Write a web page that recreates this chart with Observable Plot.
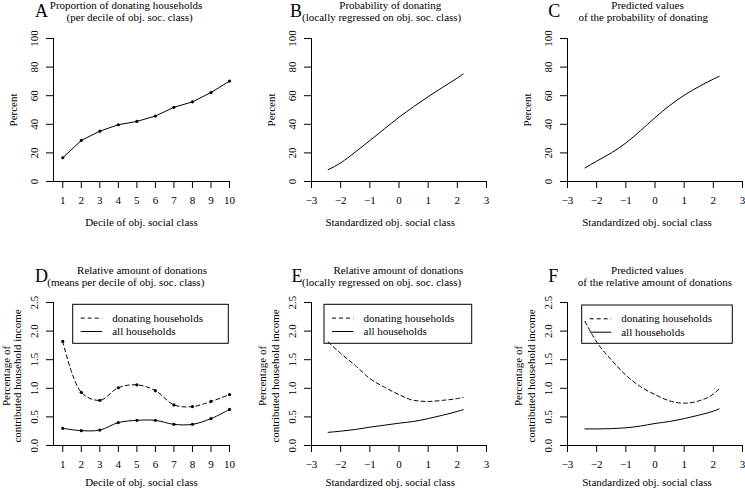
<!DOCTYPE html>
<html>
<head>
<meta charset="utf-8">
<script src="https://cdn.jsdelivr.net/npm/d3@7"></script>
<script src="https://cdn.jsdelivr.net/npm/@observablehq/plot@0.6"></script>
<style>
  html, body { margin: 0; padding: 0; background: #fff; }
  #root { position: relative; width: 745px; height: 489px; overflow: hidden; background: #fff; }
  .panel { position: absolute; }
</style>
</head>
<body>
<div id="root"></div>
<script>
// ---------------- data ----------------
const deciles = [1, 2, 3, 4, 5, 6, 7, 8, 9, 10];
const pctDonatingByDecile = [16.6, 28.7, 35.2, 39.7, 42.0, 45.8, 51.9, 55.7, 62.2, 70.2];

const loessX = [-2.43, -2, -1.5, -1, -0.5, 0, 0.5, 1, 1.5, 2, 2.2];
const pctDonatingLoess = [8.2, 13.0, 20.6, 28.6, 36.8, 44.9, 52.3, 59.3, 65.9, 72.4, 75.2];

const predX = [-2.4, -2, -1.5, -1, -0.5, 0, 0.5, 1, 1.5, 2, 2.2];
const pctDonatingPred = [9.5, 14.2, 20.0, 26.9, 35.5, 44.6, 53.1, 60.3, 66.3, 71.6, 73.5];

const amtDonatingByDecile = [1.82, 0.93, 0.79, 1.01, 1.06, 0.96, 0.71, 0.68, 0.77, 0.89];
const amtAllByDecile = [0.30, 0.26, 0.27, 0.40, 0.44, 0.44, 0.37, 0.37, 0.47, 0.63];

const amtDonatingLoess = [1.81, 1.61, 1.40, 1.17, 1.02, 0.89, 0.79, 0.77, 0.79, 0.82, 0.84];
const amtAllLoess = [0.23, 0.25, 0.28, 0.32, 0.355, 0.39, 0.42, 0.47, 0.53, 0.595, 0.625];

const amtDonatingPred = [2.17, 1.81, 1.50, 1.23, 1.03, 0.89, 0.78, 0.74, 0.78, 0.90, 0.99];
const amtAllPred = [0.29, 0.29, 0.295, 0.31, 0.34, 0.385, 0.42, 0.47, 0.53, 0.60, 0.64];

const decileTicks = [1, 2, 3, 4, 5, 6, 7, 8, 9, 10];
const stdTicks = [-3, -2, -1, 0, 1, 2, 3];
const pctTicks = [0, 20, 40, 60, 80, 100];
const amtTicks = [0, 0.5, 1, 1.5, 2, 2.5];

const panelLetters = ["A", "B", "C", "D", "E", "F"];
const panelTitles = [
  ["Proportion of donating households", "(per decile of obj. soc. class)"],
  ["Probability of donating", "(locally regressed on obj. soc. class)"],
  ["Predicted values", "of the probability of donating"],
  ["Relative amount of donations", "(means per decile of obj. soc. class)"],
  ["Relative amount of donations", "(locally regressed on obj. soc. class)"],
  ["Predicted values", "of the relative amount of donations"]
];
const xLabelDecile = "Decile of obj. social class";
const xLabelStd = "Standardized obj. social class";
const yLabelPct = ["Percent"];
const yLabelAmt = ["Percentage of", "contributed household income"];
const legendLabels = ["donating households", "all households"];

// ---------------- helpers ----------------
const FONT = "'Liberation Serif', 'DejaVu Serif', serif";
const zip = (xs, ys) => xs.map((x, i) => ({x, y: ys[i]}));
const fmt1 = d3.format(".1f");
const fmtInt = d => (d < 0 ? "\u2212" + Math.abs(d) : String(d));

// panel geometry (layout only)
const cols = [
  {left: 0,   width: 248, ml: 53, mr: 19},
  {left: 248, width: 249, ml: 63, mr: 11},
  {left: 497, width: 248, ml: 70, mr: 3}
];
const rows = [
  {top: 0,   height: 245, mt: 38, mb: 64},
  {top: 245, height: 244, mt: 57, mb: 44}
];

const panels = [
  {xDomain: [0.5, 10], xTicks: decileTicks, yDomain: [0, 100], yTicks: pctTicks, yFmt: fmtInt,
   series: [{data: zip(deciles, pctDonatingByDecile), dash: null, dots: true, curve: "linear"}]},
  {xDomain: [-3, 3], xTicks: stdTicks, yDomain: [0, 100], yTicks: pctTicks, yFmt: fmtInt,
   series: [{data: zip(loessX, pctDonatingLoess), dash: null, curve: "monotone-x"}]},
  {xDomain: [-3, 3], xTicks: stdTicks, yDomain: [0, 100], yTicks: pctTicks, yFmt: fmtInt,
   series: [{data: zip(predX, pctDonatingPred), dash: null, curve: "monotone-x"}]},
  {xDomain: [0.5, 10], xTicks: decileTicks, yDomain: [0, 2.5], yTicks: amtTicks, yFmt: fmt1,
   series: [{data: zip(deciles, amtDonatingByDecile), dash: "4,3", dots: true, curve: "catmull-rom"},
            {data: zip(deciles, amtAllByDecile), dash: null, dots: true, curve: "catmull-rom"}]},
  {xDomain: [-3, 3], xTicks: stdTicks, yDomain: [0, 2.5], yTicks: amtTicks, yFmt: fmt1,
   series: [{data: zip(loessX, amtDonatingLoess), dash: "4,3", curve: "monotone-x"},
            {data: zip(loessX, amtAllLoess), dash: null, curve: "monotone-x"}]},
  {xDomain: [-3, 3], xTicks: stdTicks, yDomain: [0, 2.5], yTicks: amtTicks, yFmt: fmt1,
   series: [{data: zip(predX, amtDonatingPred), dash: "4,3", curve: "monotone-x"},
            {data: zip(predX, amtAllPred), dash: null, curve: "monotone-x"}]}
];

const root = document.getElementById("root");

panels.forEach((p, i) => {
  const c = cols[i % 3], r = rows[Math.floor(i / 3)];
  const marks = [
    Plot.ruleY([p.yDomain[0]], {stroke: "#000", strokeWidth: 1}),
    Plot.ruleX([p.xDomain[0]], {stroke: "#000", strokeWidth: 1}),
    Plot.axisX({ticks: p.xTicks, tickSize: 7, tickPadding: 8, label: null, fontSize: 11, tickFormat: fmtInt}),
    Plot.axisY({ticks: p.yTicks, tickSize: 7, tickPadding: 9, tickRotate: -90, tickFormat: p.yFmt, label: null, fontSize: 11})
  ];
  for (const s of p.series) {
    marks.push(Plot.line(s.data, {x: "x", y: "y", stroke: "#000", strokeWidth: 1,
      strokeDasharray: s.dash || undefined, curve: s.curve}));
    if (s.dots) marks.push(Plot.dot(s.data, {x: "x", y: "y", r: 1.6, fill: "#000", stroke: "none"}));
  }
  const chart = Plot.plot({
    width: c.width, height: r.height,
    marginLeft: c.ml, marginRight: c.mr, marginTop: r.mt, marginBottom: r.mb,
    x: {domain: p.xDomain},
    y: {domain: p.yDomain},
    style: {fontFamily: FONT, fontSize: "11px", color: "#000", background: "transparent", overflow: "visible"},
    marks
  });
  const div = document.createElement("div");
  div.className = "panel";
  div.style.left = c.left + "px";
  div.style.top = r.top + "px";
  div.style.width = c.width + "px";
  div.style.height = r.height + "px";
  div.appendChild(chart);
  root.appendChild(div);
});

// ---------------- annotations overlay ----------------
const ov = d3.select(root).append("svg")
  .attr("width", 745).attr("height", 489)
  .style("position", "absolute").style("left", 0).style("top", 0)
  .style("overflow", "visible").style("pointer-events", "none")
  .style("font-family", FONT).attr("fill", "#000");

// titles: [line1 center x, line2 center x]
const titleX = [[126, 129.7], [390.3, 381.7], [647.5, 643.3], [142, 125.8], [398.3, 381.7], [647.3, 655]];
const titleBase = [[8.8, 20.8], [273.8, 285.8]];
const letterX = [35, 290, 548.3, 35, 291.5, 548.3];
const letterBase = [16.5, 281.5];

panelTitles.forEach((t, i) => {
  const row = Math.floor(i / 3);
  ov.append("text").attr("x", titleX[i][0]).attr("y", titleBase[row][0]).attr("text-anchor", "middle")
    .attr("font-size", 11).text(t[0]);
  ov.append("text").attr("x", titleX[i][1]).attr("y", titleBase[row][1]).attr("text-anchor", "middle")
    .attr("font-size", 11).text(t[1]);
  ov.append("text").attr("x", letterX[i]).attr("y", letterBase[row]).attr("font-size", 18).text(panelLetters[i]);
});

// x axis labels
const xLabX = [141.5, 390.2, 647];
const xLabBase = [225.7, 486.3];
for (let i = 0; i < 6; i++) {
  const row = Math.floor(i / 3), col = i % 3;
  ov.append("text").attr("x", xLabX[col]).attr("y", xLabBase[row]).attr("text-anchor", "middle")
    .attr("font-size", 11).text(col === 0 ? xLabelDecile : xLabelStd);
}

// y axis labels (rotated)
const yAxisX = [53, 311, 567];
const amtOffs = [[46.8, 35.4], [48.5, 36], [48.5, 36]];
for (let i = 0; i < 6; i++) {
  const row = Math.floor(i / 3), col = i % 3;
  if (row === 0) {
    const bx = yAxisX[col] - 39.5 + 3.5;
    ov.append("text").attr("transform", `translate(${bx},110) rotate(-90)`).attr("text-anchor", "middle")
      .attr("font-size", 11).text(yLabelPct[0]);
  } else {
    yLabelAmt.forEach((lab, k) => {
      const bx = yAxisX[col] - amtOffs[col][k] + 3.5;
      ov.append("text").attr("transform", `translate(${bx},376) rotate(-90)`).attr("text-anchor", "middle")
        .attr("font-size", 11).text(lab);
    });
  }
}

// legends (bottom row)
const legendBoxes = [
  {x0: 72.7, x1: 228.3, y0: 304.3, y1: 343.3},
  {x0: 324, x1: 471.7, y0: 304.3, y1: 343.3},
  {x0: 581.7, x1: 732.3, y0: 305, y1: 343.3}
];
const legendDash = ["4,3", null];
legendBoxes.forEach(b => {
  ov.append("rect").attr("x", b.x0).attr("y", b.y0).attr("width", b.x1 - b.x0).attr("height", b.y1 - b.y0)
    .attr("fill", "none").attr("stroke", "#000").attr("stroke-width", 1);
  const ly = [b.y0 + 13.8, b.y0 + 27.2];
  legendLabels.forEach((lab, k) => {
    ov.append("line").attr("x1", b.x0 + 8).attr("x2", b.x0 + 29.5).attr("y1", ly[k]).attr("y2", ly[k])
      .attr("stroke", "#000").attr("stroke-width", 1).attr("stroke-dasharray", legendDash[k]);
    ov.append("text").attr("x", b.x0 + 39.5).attr("y", ly[k] + 3.6).attr("font-size", 11).text(lab);
  });
});
</script>
</body>
</html>
